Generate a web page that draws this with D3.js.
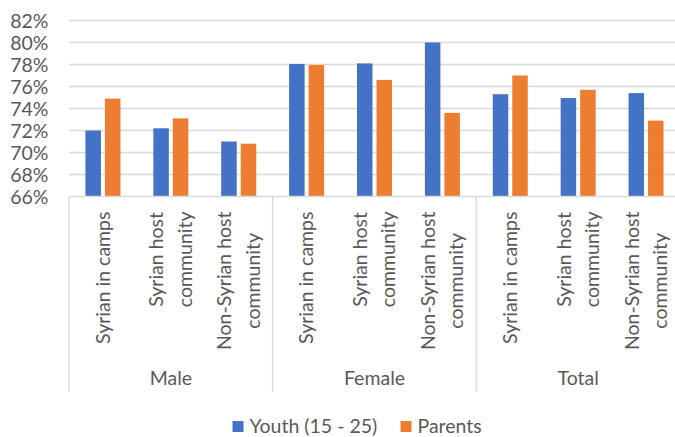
<!DOCTYPE html>
<html>
<head>
<meta charset="utf-8">
<script src="https://cdn.jsdelivr.net/npm/d3@7"></script>
<style>
  html, body { margin: 0; padding: 0; background: #fff; }
  svg { display: block; overflow: hidden; }
  text { font-family: Lato, "Open Sans", sans-serif; fill: #595959; }
</style>
</head>
<body>
<svg id="chart" width="675" height="437"></svg>
<script>
// ---- data ----
const groups = ["Male", "Female", "Total"];
const categories = [
  ["Syrian in camps"],
  ["Syrian host", "community"],
  ["Non-Syrian host", "community"]
];
const series = ["Youth (15 - 25)", "Parents"];
const youth   = [72.0, 72.2, 71.0, 78.05, 78.1, 80.0, 75.3, 74.95, 75.4];
const parents = [74.9, 73.1, 70.8, 77.95, 76.6, 73.6, 77.0, 75.7, 72.9];
const yTicks = [66, 68, 70, 72, 74, 76, 78, 80, 82];
const colors = ["#4472C4", "#ED7D31"];

(function () {
// ---- layout ----
const svg = d3.select("#chart");
const plotLeft = 69, plotRight = 680, plotTop = 20.5, base = 196.5, bottomLine = 392;
const fontSize = 19.5;

const rows = [];
groups.forEach((g, gi) => categories.forEach((c, ci) => {
  const i = gi * categories.length + ci;
  rows.push({ key: g + "|" + ci, group: g, lines: c, values: [youth[i], parents[i]] });
}));

const x0 = d3.scaleBand().domain(rows.map(r => r.key)).range([plotLeft, plotRight]).paddingInner(0).paddingOuter(0);
const xg = d3.scaleBand().domain(groups).range([plotLeft, plotRight]);
const y = d3.scaleLinear().domain([66, 82]).range([base, plotTop]);
const x1 = d3.scaleBand().domain(series).range([-17.5, 17.5]).paddingInner(0.205);

// gridlines
svg.append("g").selectAll("line").data(yTicks.slice(1)).join("line")
  .attr("x1", plotLeft).attr("x2", plotRight)
  .attr("y1", d => y(d)).attr("y2", d => y(d))
  .attr("stroke", "#d9d9d9").attr("stroke-width", 1.5);

// y tick labels
svg.append("g").selectAll("text").data(yTicks).join("text")
  .attr("x", 48.5).attr("y", d => y(d))
  .attr("text-anchor", "end").attr("dominant-baseline", "central")
  .style("font-size", fontSize + "px")
  .text(d => d + "%");

// bars
const bg = svg.append("g").selectAll("g").data(rows).join("g")
  .attr("transform", d => `translate(${x0(d.key) + x0.bandwidth() / 2},0)`);
bg.selectAll("rect").data(d => d.values.map((v, si) => ({ v, s: series[si], si }))).join("rect")
  .attr("x", d => x1(d.s)).attr("width", x1.bandwidth())
  .attr("y", d => y(d.v)).attr("height", d => base - y(d.v))
  .attr("fill", d => colors[d.si]);

// baseline and separators
svg.append("line").attr("x1", plotLeft).attr("x2", plotRight).attr("y1", base).attr("y2", base)
  .attr("stroke", "#d9d9d9").attr("stroke-width", 1.5);
const seps = groups.map(g => xg(g)).concat([plotRight]);
svg.append("g").selectAll("line").data(seps).join("line")
  .attr("x1", d => d).attr("x2", d => d).attr("y1", base).attr("y2", bottomLine)
  .attr("stroke", "#d9d9d9").attr("stroke-width", 1.5);

// category labels (rotated)
const labelTop = 211.5, lineGap = 28.3, baseOff = 6.8;
rows.forEach(r => {
  const cx = x0(r.key) + x0.bandwidth() / 2;
  const g = svg.append("g");
  const texts = r.lines.map(ln => g.append("text")
    .style("font-size", fontSize + "px")
    .attr("text-anchor", "middle")
    .text(ln));
  const maxLen = d3.max(texts, t => t.node().getComputedTextLength());
  const n = r.lines.length;
  texts.forEach((t, i) => {
    const bx = cx + baseOff + (i - (n - 1) / 2) * lineGap;
    const cy = labelTop + maxLen / 2;
    t.attr("transform", `translate(${bx},${cy}) rotate(-90)`);
  });
});

// group labels
svg.append("g").selectAll("text").data(groups).join("text")
  .attr("x", d => xg(d) + xg.bandwidth() / 2).attr("y", 385)
  .attr("text-anchor", "middle")
  .style("font-size", fontSize + "px")
  .text(d => d);

// legend
const legendItems = [{ s: series[0], c: colors[0], x: 232.5 }, { s: series[1], c: colors[1], x: 400.5 }];
const lg = svg.append("g").selectAll("g").data(legendItems).join("g")
  .attr("transform", d => `translate(${d.x},0)`);
lg.append("rect").attr("x", 0).attr("y", 421).attr("width", 11).attr("height", 11).attr("fill", d => d.c);
lg.append("text").attr("x", 17).attr("y", 433).style("font-size", fontSize + "px").text(d => d.s);
})();
</script>
</body>
</html>
